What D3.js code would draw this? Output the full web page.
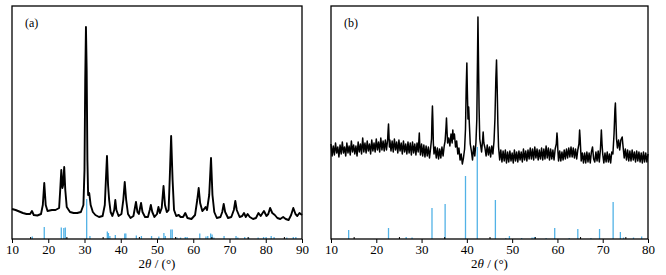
<!DOCTYPE html>
<html>
<head>
<meta charset="utf-8">
<script src="https://cdn.jsdelivr.net/npm/d3@7"></script>
<style>
body { margin: 0; background: #fff; }
svg { display: block; font-family: 'Liberation Serif', 'Times New Roman', serif; }
</style>
</head>
<body>
<svg id="chart" width="666" height="275"></svg>
<script>
/* global d3 */

// panel (a): measured pattern, [2theta, intensity a.u.]
var patternA = [
  [10.0, 30], [11, 29], [12, 27.5], [13, 26], [14, 25], [15.0, 25], [15.5, 28], [16.0, 24],
  [17, 23.5], [18.0, 25], [18.5, 34], [18.9, 56], [19.3, 34], [19.8, 28], [21, 29], [22, 29],
  [23, 31], [23.3, 49], [23.6, 69], [23.9, 51], [24.1, 54], [24.4, 72], [24.7, 49], [25.1, 32],
  [26, 27], [27, 26], [28, 26], [29, 27], [29.7, 34], [30.0, 69], [30.2, 159], [30.4, 212],
  [30.6, 169], [30.8, 79], [31.0, 44], [31.3, 46], [31.7, 34], [32.3, 27], [33, 24], [34, 22],
  [35, 23], [35.6, 34], [35.9, 59], [36.2, 83], [36.5, 54], [36.8, 39], [37.2, 27], [37.7, 23],
  [38.2, 29], [38.5, 39], [38.8, 29], [39.4, 23], [40.2, 25], [40.7, 39], [41.1, 57], [41.5, 39],
  [42.0, 25], [42.7, 21], [43.5, 23], [43.9, 31], [44.2, 37], [44.6, 27], [45.0, 25], [45.6, 36],
  [46.0, 27], [46.7, 22], [47.5, 22], [48.0, 29], [48.3, 34], [48.7, 27], [49.3, 22], [50.0, 25],
  [50.4, 32], [50.8, 26], [51.3, 31], [51.8, 53], [52.2, 34], [52.7, 27], [53.2, 29], [53.5, 59],
  [53.9, 103], [54.3, 59], [54.7, 29], [55.3, 23], [56.0, 24], [56.5, 22], [57.2, 22], [57.8, 26],
  [58.4, 21], [59.5, 20], [60.5, 24], [61.1, 39], [61.5, 51], [61.9, 36], [62.5, 28], [63.0, 30],
  [63.4, 32], [63.8, 29], [64.4, 44], [64.9, 81], [65.3, 44], [65.8, 27], [66.5, 21], [67.5, 22],
  [68.0, 27], [68.4, 35], [68.8, 27], [69.6, 21], [70.5, 22], [71.2, 29], [71.6, 38], [72.0, 29],
  [72.8, 22], [73.5, 23], [74.0, 26], [74.5, 22], [75.0, 25], [75.6, 22], [76.5, 20], [77.3, 21],
  [78.0, 26], [78.6, 23], [79.5, 28], [80.2, 23], [80.7, 25], [81.2, 31], [81.8, 26], [82.5, 24],
  [83.2, 21], [84.0, 20], [84.8, 22], [85.5, 20], [86.3, 19], [87.0, 24], [87.6, 31], [88.2, 25],
  [88.7, 23], [89.3, 26], [90.0, 24]
]

// panel (a): reference card lines
var sticksA = [
  [15.6, 2.5], [18.9, 12], [23.6, 11.5], [24.3, 11], [24.7, 11.5], [30.6, 40], [31.5, 3],
  [36.3, 7.5], [36.6, 6], [37.0, 3], [38.5, 4], [41.1, 5.5], [41.4, 5.5], [44.3, 3.5],
  [45.7, 3], [48.5, 3], [50.5, 2.5], [51.9, 6], [52.3, 3], [53.8, 9.5], [54.2, 9.5],
  [55.5, 1.5], [56.5, 1.5], [57.8, 2], [58.3, 2], [61.8, 5.5], [63.5, 2.5], [64.0, 3],
  [64.8, 5.5], [65.2, 4.5], [65.7, 1.5], [68.5, 3], [71.8, 3], [72.3, 1.5], [74.2, 2],
  [75.3, 1.5], [77.9, 1.5], [79.4, 2], [80.1, 2], [81.5, 3], [82.3, 2], [85.8, 1.5],
  [87.6, 2], [88.3, 2]
]

// panel (b): measured pattern, [2theta, intensity a.u.]
var patternB = [
  [10.00, 95], [10.25, 83], [10.50, 93], [10.75, 84], [11.00, 96], [11.25, 86], [11.50, 92],
  [11.75, 82], [12.00, 94], [12.25, 85], [12.50, 97], [12.75, 86], [13.00, 92], [13.25, 83],
  [13.50, 96], [13.75, 86], [14.00, 93], [14.25, 84], [14.50, 98], [14.75, 87], [15.00, 94],
  [15.25, 85], [15.50, 93], [15.75, 83], [16.00, 97], [16.25, 87], [16.50, 95], [16.75, 85],
  [17.00, 101], [17.25, 87], [17.50, 96], [17.75, 86], [18.00, 98], [18.25, 88], [18.50, 95],
  [18.75, 85], [19.00, 99], [19.25, 88], [19.50, 96], [19.75, 87], [20.00, 100], [20.25, 89],
  [20.50, 97], [20.75, 87], [21.00, 101], [21.25, 89], [21.50, 98], [21.75, 88], [22.00, 99],
  [22.25, 89], [22.50, 99], [22.60, 108], [22.70, 115], [22.80, 104], [22.90, 92], [23.00, 99],
  [23.25, 88], [23.50, 98], [23.75, 87], [24.00, 100], [24.25, 89], [24.50, 97], [24.75, 86],
  [25.00, 99], [25.25, 88], [25.50, 96], [25.75, 85], [26.00, 98], [26.25, 87], [26.50, 95],
  [26.75, 85], [27.00, 97], [27.25, 86], [27.50, 96], [27.75, 84], [28.00, 97], [28.25, 86],
  [28.50, 95], [28.75, 84], [29.00, 96], [29.25, 87], [29.40, 98], [29.50, 106], [29.60, 94],
  [29.75, 84], [30.00, 95], [30.25, 83], [30.50, 94], [30.75, 82], [31.00, 93], [31.25, 83],
  [31.50, 92], [31.75, 81], [32.00, 91], [32.20, 100], [32.30, 120], [32.40, 133], [32.50, 118],
  [32.60, 96], [32.75, 85], [33.00, 92], [33.25, 81], [33.50, 91], [33.75, 80], [34.00, 90],
  [34.25, 81], [34.50, 92], [34.75, 83], [35.00, 93], [35.20, 98], [35.40, 112], [35.50, 121],
  [35.60, 110], [35.75, 96], [36.00, 101], [36.25, 93], [36.50, 105], [36.75, 96], [36.90, 109],
  [37.00, 100], [37.25, 105], [37.50, 92], [37.75, 98], [38.00, 85], [38.25, 91], [38.50, 79],
  [38.75, 85], [39.00, 75], [39.25, 81], [39.50, 90], [39.70, 110], [39.85, 150], [40.00, 176],
  [40.10, 150], [40.25, 120], [40.40, 132], [40.55, 115], [40.75, 95], [41.00, 88], [41.25, 79],
  [41.50, 93], [41.75, 83], [42.00, 96], [42.20, 120], [42.35, 180], [42.45, 222], [42.55, 185],
  [42.70, 130], [42.85, 100], [43.00, 95], [43.25, 87], [43.50, 100], [43.60, 107], [43.75, 96],
  [44.00, 91], [44.25, 83], [44.50, 94], [44.75, 84], [45.00, 92], [45.25, 82], [45.50, 93],
  [45.75, 85], [46.00, 98], [46.20, 120], [46.40, 160], [46.55, 179], [46.70, 150], [46.85, 115],
  [47.00, 92], [47.25, 79], [47.50, 89], [47.75, 77], [48.00, 88], [48.25, 78], [48.50, 89],
  [48.75, 76], [49.00, 87], [49.25, 77], [49.50, 88], [49.75, 78], [50.00, 86], [50.25, 76],
  [50.50, 89], [50.75, 78], [51.00, 87], [51.25, 77], [51.50, 88], [51.75, 79], [52.00, 87],
  [52.25, 77], [52.50, 90], [52.75, 79], [53.00, 88], [53.25, 78], [53.50, 89], [53.75, 80],
  [54.00, 91], [54.25, 80], [54.50, 90], [54.75, 79], [55.00, 92], [55.25, 81], [55.50, 90],
  [55.75, 79], [56.00, 89], [56.25, 80], [56.50, 91], [56.75, 79], [57.00, 90], [57.25, 80],
  [57.50, 93], [57.75, 81], [58.00, 91], [58.25, 79], [58.50, 90], [58.75, 80], [59.00, 89],
  [59.25, 79], [59.50, 90], [59.75, 95], [59.90, 106], [60.00, 100], [60.10, 88], [60.25, 78],
  [60.50, 88], [60.75, 78], [61.00, 87], [61.25, 79], [61.50, 89], [61.75, 80], [62.00, 90],
  [62.25, 81], [62.50, 91], [62.75, 82], [63.00, 92], [63.25, 82], [63.50, 91], [63.75, 81],
  [64.00, 90], [64.25, 80], [64.50, 89], [64.75, 95], [64.90, 109], [65.00, 102], [65.15, 88],
  [65.25, 78], [65.50, 86], [65.75, 76], [66.00, 86], [66.25, 76], [66.50, 87], [66.75, 77],
  [67.00, 86], [67.25, 76], [67.50, 87], [67.75, 92], [68.00, 80], [68.25, 77], [68.50, 87],
  [68.75, 78], [69.00, 88], [69.25, 77], [69.50, 90], [69.70, 109], [69.85, 95], [70.00, 85],
  [70.25, 76], [70.50, 86], [70.75, 77], [71.00, 87], [71.25, 77], [71.50, 85], [71.75, 76],
  [72.00, 87], [72.25, 85], [72.50, 105], [72.70, 130], [72.80, 136], [72.90, 122], [73.05, 100],
  [73.25, 91], [73.50, 99], [73.75, 89], [74.00, 99], [74.30, 102], [74.50, 92], [74.75, 81],
  [75.00, 90], [75.25, 79], [75.50, 89], [75.75, 78], [76.00, 88], [76.25, 78], [76.50, 89],
  [76.75, 79], [77.00, 87], [77.25, 77], [77.50, 88], [77.75, 78], [78.00, 87], [78.25, 77],
  [78.50, 86], [78.75, 76], [79.00, 87], [79.25, 77], [79.50, 86], [79.75, 77], [80.00, 85]
]

// panel (b): reference card lines
var sticksB = [
  [13.9, 9], [22.7, 11], [26.6, 2], [27.9, 1.5], [32.3, 31], [35.2, 35], [39.7, 63],
  [42.3, 92], [46.3, 39], [48.6, 1], [49.4, 3], [52.1, 1], [54.4, 1.5], [54.9, 2],
  [57.5, 1], [59.4, 11], [62.6, 1], [64.5, 10], [67.4, 1], [69.3, 10], [72.3, 37],
  [73.9, 7], [74.6, 1.5], [76.8, 1.5], [78.6, 2.5]
]

var ticksA = [10, 20, 30, 40, 50, 60, 70, 80, 90]
var minorA = [15, 25, 35, 45, 55, 65, 75, 85]
var ticksB = [10, 20, 30, 40, 50, 60, 70, 80]
var minorB = [15, 25, 35, 45, 55, 65, 75]

var plotTop = 6
var plotBottom = 239
var stickColor = '#52b2e6'

var svg = d3.select('#chart')

svg.append('rect')
    .attr('width', 666)
    .attr('height', 275)
    .attr('fill', '#fff')

drawPanel({ left: 12, right: 302, domain: [10, 90], ticks: ticksA, minor: minorA,
  pattern: patternA, sticks: sticksA, label: '(a)', lineWidth: 1.9, stickWidth: 1.3 })
drawPanel({ left: 331, right: 648, domain: [10, 80], ticks: ticksB, minor: minorB,
  pattern: patternB, sticks: sticksB, label: '(b)', lineWidth: 1.5, stickWidth: 1.3 })

function drawPanel (p) {
  var x = d3.scaleLinear().domain(p.domain).range([p.left, p.right])
  var y = d3.scaleLinear().domain([0, plotBottom - plotTop]).range([plotBottom, plotTop])

  var g = svg.append('g')

  var line = d3.line()
      .x(d => x(d[0]))
      .y(d => y(d[1]))

  g.append('path')
      .datum(p.pattern)
      .attr('fill', 'none')
      .attr('stroke', '#000')
      .attr('stroke-width', p.lineWidth)
      .attr('stroke-linejoin', 'round')
      .attr('d', line)

  g.selectAll('.stick')
      .data(p.sticks)
    .enter().append('line')
      .attr('class', 'stick')
      .attr('x1', d => x(d[0]))
      .attr('x2', d => x(d[0]))
      .attr('y1', y(0))
      .attr('y2', d => y(d[1]))
      .attr('stroke', stickColor)
      .attr('stroke-width', p.stickWidth)

  var xAxis = d3.axisBottom(x)
      .tickValues(p.ticks)
      .tickSizeInner(4)
      .tickSizeOuter(0)
      .tickPadding(2)

  var ax = g.append('g')
      .attr('transform', 'translate(0,' + plotBottom + ')')
      .call(xAxis)
  ax.select('.domain').remove()
  ax.selectAll('line').attr('stroke', '#000').attr('stroke-width', 1)
  ax.selectAll('text')
      .attr('font-size', 13)
      .attr('font-family', "'Liberation Serif', serif")
      .attr('fill', '#000')

  var minorAxis = d3.axisBottom(x)
      .tickValues(p.minor)
      .tickSizeInner(-2)
      .tickSizeOuter(0)
      .tickFormat('')
  var mx = g.append('g')
      .attr('transform', 'translate(0,' + plotBottom + ')')
      .call(minorAxis)
  mx.select('.domain').remove()
  mx.selectAll('line').attr('stroke', '#000').attr('stroke-width', 1)

  g.append('rect')
      .attr('x', p.left)
      .attr('y', plotTop)
      .attr('width', p.right - p.left)
      .attr('height', plotBottom - plotTop)
      .attr('fill', 'none')
      .attr('stroke', '#000')
      .attr('stroke-width', 1.3)

  g.append('text')
      .attr('x', p.left + 13)
      .attr('y', plotTop + 21)
      .attr('font-size', 12)
      .text(p.label)

  var title = g.append('text')
      .attr('x', (p.left + p.right) / 2)
      .attr('y', 268)
      .attr('text-anchor', 'middle')
      .attr('font-size', 13)
  title.append('tspan').text('2')
  title.append('tspan').attr('font-style', 'italic').text('θ')
  title.append('tspan').text(' / (°)')
}
</script>
</body>
</html>
